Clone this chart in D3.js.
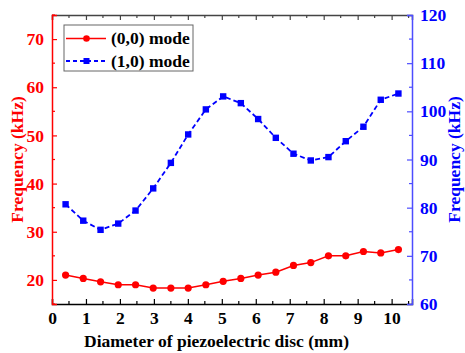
<!DOCTYPE html>
<html>
<head>
<meta charset="utf-8">
<script src="https://cdn.jsdelivr.net/npm/d3@7"></script>
<style>
  body { margin: 0; background: #fff; }
  svg text { font-family: "Liberation Serif", "Times New Roman", serif !important; font-weight: bold; }
</style>
</head>
<body>
<div id="chart"></div>
<script>
// diameter of piezoelectric disc (mm)
const diameters = [0.4, 0.92, 1.43, 1.95, 2.46, 2.98, 3.5, 4.01, 4.53, 5.04,
  5.56, 6.07, 6.59, 7.11, 7.62, 8.14, 8.65, 9.17, 9.68, 10.2];
// (0,0) mode frequency, left axis (kHz)
const mode00 = [21.0, 20.3, 19.6, 19.0, 19.0, 18.3, 18.3, 18.3, 19.0, 19.7,
  20.3, 21.0, 21.6, 23.0, 23.6, 25.0, 25.0, 25.9, 25.6, 26.3];
// (1,0) mode frequency, right axis (kHz)
const mode10 = [80.7, 77.3, 75.4, 76.7, 79.4, 84.0, 89.3, 95.2, 100.4, 103.1,
  101.7, 98.4, 94.5, 91.2, 89.8, 90.5, 93.8, 96.8, 102.4, 103.7];

const xTicks = [0, 1, 2, 3, 4, 5, 6, 7, 8, 9, 10];
const leftTicks = [20, 30, 40, 50, 60, 70];
const rightTicks = [60, 70, 80, 90, 100, 110, 120];

const W = 465, H = 353;
const margin = { top: 15, right: 53, bottom: 49, left: 52 };
const width = W - margin.left - margin.right;
const height = H - margin.top - margin.bottom;

const red = "#ff0000", blue = "#0000ff";
const fs = "17.5px";

const x = d3.scaleLinear().domain([0, 10.6]).range([0, width]);
const yL = d3.scaleLinear().domain([15, 75]).range([height, 0]);
const yR = d3.scaleLinear().domain([60, 120]).range([height, 0]);

const svg = d3.select("#chart").append("svg")
  .attr("width", W).attr("height", H)
  .append("g")
  .attr("transform", `translate(${margin.left}, ${margin.top})`);

// minor tick helper
const halfSteps = (lo, hi, step) => d3.range(lo, hi + 1e-9, step);

// bottom axis
const xb = svg.append("g").attr("transform", `translate(0, ${height})`)
  .call(d3.axisBottom(x).tickValues(xTicks).tickSize(-5).tickPadding(8).tickFormat(d3.format("d")));
xb.select(".domain").attr("stroke", "#000").attr("stroke-width", 1.5);
xb.selectAll(".tick line").attr("stroke", "#000").attr("stroke-width", 1.2);
xb.selectAll("text").attr("fill", "#000").style("font-size", fs);
svg.append("g").attr("transform", `translate(0, ${height})`)
  .selectAll("line").data(halfSteps(0.5, 10.5, 1)).join("line")
  .attr("x1", d => x(d)).attr("x2", d => x(d)).attr("y1", 0).attr("y2", -3)
  .attr("stroke", "#000").attr("stroke-width", 1.2);

// top axis (frame)
const xt = svg.append("g")
  .call(d3.axisTop(x).tickValues(xTicks).tickSize(-5).tickFormat(""));
xt.select(".domain").attr("stroke", "#444").attr("stroke-width", 1.5);
xt.selectAll(".tick line").attr("stroke", "#444").attr("stroke-width", 1.2);
svg.append("g").selectAll("line").data(halfSteps(0.5, 10.5, 1)).join("line")
  .attr("x1", d => x(d)).attr("x2", d => x(d)).attr("y1", 0).attr("y2", 3)
  .attr("stroke", "#444").attr("stroke-width", 1.2);

// left axis
const yl = svg.append("g")
  .call(d3.axisLeft(yL).tickValues(leftTicks).tickSize(-5).tickPadding(8));
yl.select(".domain").attr("stroke", red).attr("stroke-width", 1.5);
yl.selectAll(".tick line").attr("stroke", red).attr("stroke-width", 1.2);
yl.selectAll("text").attr("fill", red).style("font-size", fs);
svg.append("g").selectAll("line").data(halfSteps(15, 75, 10)).join("line")
  .attr("x1", 0).attr("x2", 3).attr("y1", d => yL(d)).attr("y2", d => yL(d))
  .attr("stroke", red).attr("stroke-width", 1.2);

// right axis
const yr = svg.append("g").attr("transform", `translate(${width}, 0)`)
  .call(d3.axisRight(yR).tickValues(rightTicks).tickSize(-5).tickPadding(8));
yr.select(".domain").attr("stroke", "#4d4dff").attr("stroke-width", 1.5);
yr.selectAll(".tick line").attr("stroke", "#4d4dff").attr("stroke-width", 1.2);
yr.selectAll("text").attr("fill", blue).style("font-size", fs);
svg.append("g").attr("transform", `translate(${width}, 0)`)
  .selectAll("line").data(halfSteps(65, 115, 10)).join("line")
  .attr("x1", 0).attr("x2", -3).attr("y1", d => yR(d)).attr("y2", d => yR(d))
  .attr("stroke", "#4d4dff").attr("stroke-width", 1.2);

// axis titles
svg.append("text")
  .attr("x", (83 + 350) / 2 - margin.left).attr("y", height + 43)
  .attr("text-anchor", "middle").style("font-size", fs).attr("fill", "#000")
  .text("Diameter of piezoelectric disc (mm)");
svg.append("text")
  .attr("transform", `translate(${23 - margin.left}, ${height / 2}) rotate(-90)`)
  .attr("text-anchor", "middle").style("font-size", fs).attr("fill", red)
  .text("Frequency (kHz)");
svg.append("text")
  .attr("transform", `translate(${460 - margin.left}, ${height / 2}) rotate(-90)`)
  .attr("text-anchor", "middle").style("font-size", fs).attr("fill", blue)
  .text("Frequency (kHz)");

// lines
const pts00 = diameters.map((d, i) => [d, mode00[i]]);
const pts10 = diameters.map((d, i) => [d, mode10[i]]);

svg.append("path").datum(pts00)
  .attr("fill", "none").attr("stroke", red).attr("stroke-width", 1.5)
  .attr("d", d3.line().x(d => x(d[0])).y(d => yL(d[1])));
svg.append("g").selectAll("circle").data(pts00).join("circle")
  .attr("cx", d => x(d[0])).attr("cy", d => yL(d[1])).attr("r", 3.6).attr("fill", red);

svg.append("path").datum(pts10)
  .attr("fill", "none").attr("stroke", blue).attr("stroke-width", 1.8)
  .attr("stroke-dasharray", "5,3")
  .attr("d", d3.line().x(d => x(d[0])).y(d => yR(d[1])));
svg.append("g").selectAll("rect").data(pts10).join("rect")
  .attr("x", d => x(d[0]) - 3.2).attr("y", d => yR(d[1]) - 3.2)
  .attr("width", 6.4).attr("height", 6.4).attr("fill", blue);

// legend
const lg = svg.append("g").attr("transform", "translate(12, 10)");
lg.append("rect").attr("width", 129).attr("height", 46)
  .attr("fill", "#fff").attr("stroke", "#666").attr("stroke-width", 1);
const items = [
  { label: "(0,0) mode", color: red, dash: null, shape: "circle" },
  { label: "(1,0) mode", color: blue, dash: "4,3", shape: "square" }
];
items.forEach((it, i) => {
  const cy = 13.5 + i * 22.5;
  lg.append("line").attr("x1", 2).attr("x2", 42).attr("y1", cy).attr("y2", cy)
    .attr("stroke", it.color).attr("stroke-width", it.dash ? 1.8 : 1.5)
    .attr("stroke-dasharray", it.dash);
  if (it.shape === "circle") {
    lg.append("circle").attr("cx", 22.5).attr("cy", cy).attr("r", 3.3).attr("fill", it.color);
  } else {
    lg.append("rect").attr("x", 19.5).attr("y", cy - 3).attr("width", 6).attr("height", 6).attr("fill", it.color);
  }
  lg.append("text").attr("x", 47).attr("y", cy + 5.5)
    .style("font-size", fs).attr("fill", "#000").text(it.label);
});
</script>
</body>
</html>
